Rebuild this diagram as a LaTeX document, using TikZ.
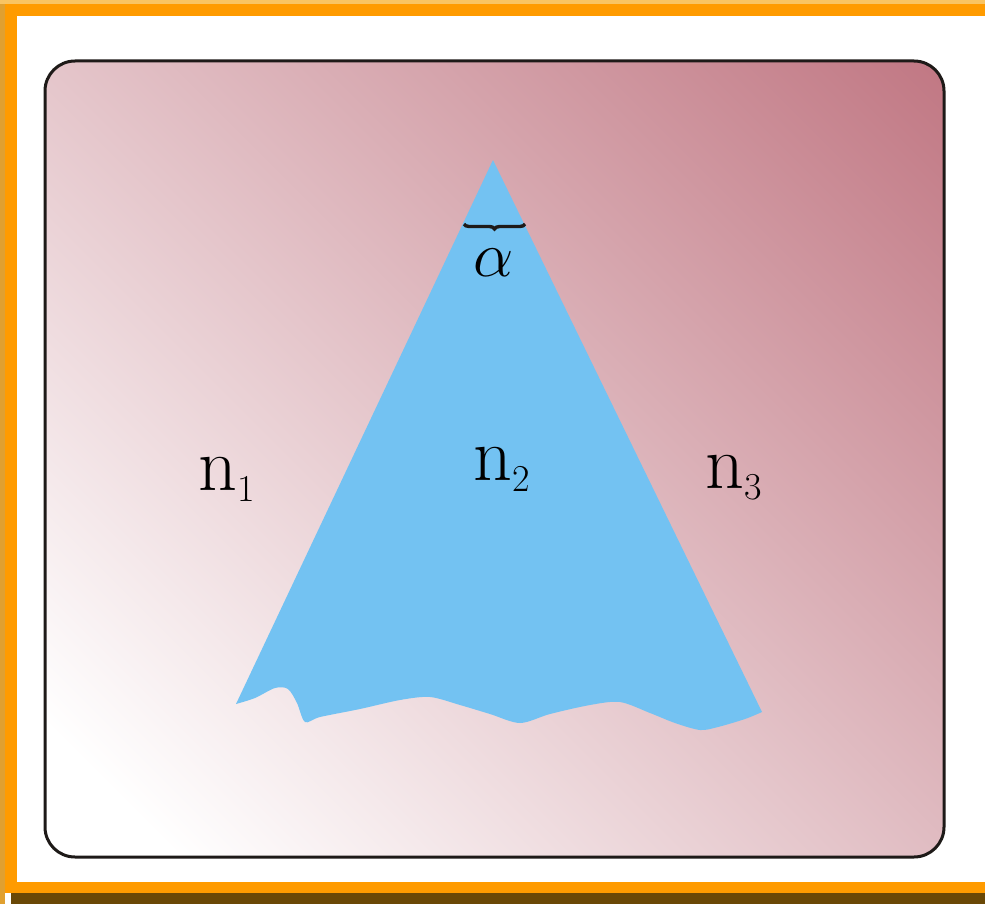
\documentclass[tikz,border=0pt]{standalone}
\usepackage{fix-cm}
\usepackage{xcolor}
\usepackage{amsmath}
\usepackage{tikz}
\usetikzlibrary{decorations.pathreplacing}

\definecolor{frameorange}{HTML}{FF9B00}
\definecolor{frameglow}{HTML}{F9C462}
\definecolor{framegold}{HTML}{E0A030}
\definecolor{framebrown}{HTML}{6A4806}
\definecolor{boxline}{HTML}{1E1A18}
\definecolor{mauve}{HTML}{C07682}
\definecolor{prismblue}{HTML}{73C2F2}

\pgfdeclareverticalshading{mediumshade}{100bp}{
    color(0bp)=(white); color(20bp)=(white);
    color(86bp)=(mauve); color(100bp)=(mauve)}

\begin{document}
\begin{tikzpicture}[
    x=0.5pt, y=-0.5pt,
    every node/.style={inner sep=0pt},
    medium/.style={
        rounded corners=15pt,
        draw=boxline,
        line width=1.5pt,
        shade,
        shading=mediumshade,
        shading angle=-45
    },
    prism/.style={
        fill=prismblue
    },
    index/.style={
        font=\fontsize{38}{40}\selectfont,
        anchor=base west
    },
    anglelabel/.style={
        font=\fontsize{32}{34}\selectfont
    },
    anglebrace/.style={
        decorate,
        decoration={brace, mirror, amplitude=2.5pt},
        line width=1.7pt,
        draw=boxline
    }
]

\useasboundingbox (0,0) rectangle (985,904);
\fill[white] (0,0) rectangle (985,904);
\fill[frameglow] (0,0) rectangle (985,4);
\fill[framegold] (0,4) rectangle (5,904);
\fill[frameorange] (5,4) rectangle (985,16);
\fill[frameorange] (5,16) rectangle (17,893);
\fill[frameorange] (5,882) rectangle (985,893);
\fill[framebrown] (11,893) rectangle (985,904);

\path[medium] (45,61) rectangle (944,857);

\fill[prism] (493,160) -- plot[smooth, tension=0.5] coordinates {
    (762,712) (745,719) (718,727) (700,730) (675,723) (650,713)
    (620,702) (590,705) (550,714) (520,723) (490,714) (460,705)
    (430,697) (400,700) (360,709) (320,717) (305,722) (297,703)
    (288,689) (275,688) (255,698) (236,704)
} -- cycle;

\draw[anglebrace] (464,224) -- (525,224);

\node (alpha) [anglelabel] at (494,263) {$\alpha$};
\node (n1) [index] at (198,490) {$\mathrm{n}_{\scriptscriptstyle 1}$};
\node (n2) [index] at (473,480) {$\mathrm{n}_{\scriptscriptstyle 2}$};
\node (n3) [index] at (705,488) {$\mathrm{n}_{\scriptscriptstyle 3}$};

\end{tikzpicture}
\end{document}
